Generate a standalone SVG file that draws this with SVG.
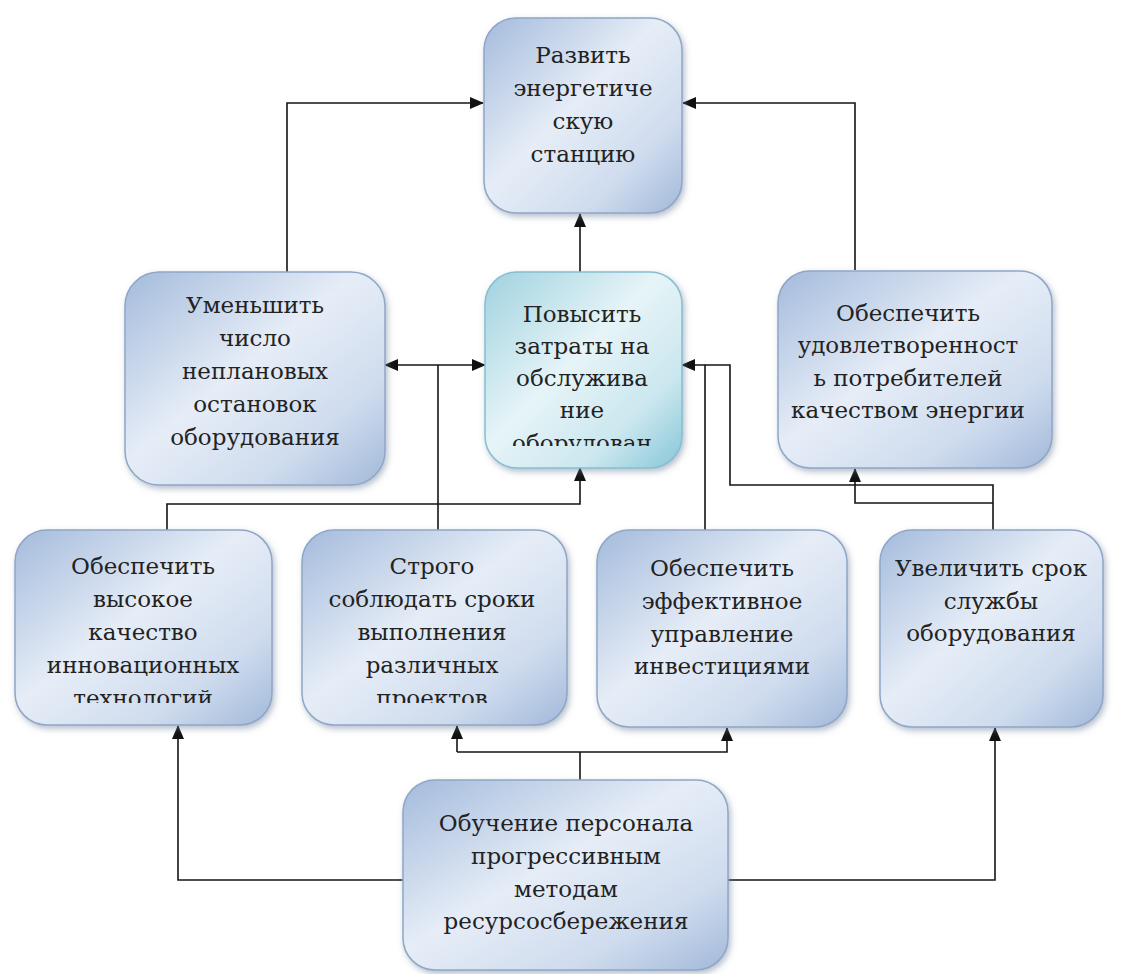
<svg xmlns="http://www.w3.org/2000/svg" width="1126" height="974" viewBox="0 0 1126 974">
<defs>
<linearGradient id="gBlue" x1="0" y1="0" x2="1" y2="1">
<stop offset="0" stop-color="#a4bbdc"/>
<stop offset="0.45" stop-color="#e6edf7"/>
<stop offset="0.75" stop-color="#cfdcee"/>
<stop offset="1" stop-color="#a2b9da"/>
</linearGradient>
<linearGradient id="gCyan" x1="0" y1="0" x2="1" y2="1">
<stop offset="0" stop-color="#9fd2e0"/>
<stop offset="0.45" stop-color="#e6f4f7"/>
<stop offset="0.75" stop-color="#cbe7ef"/>
<stop offset="1" stop-color="#86c6d8"/>
</linearGradient>
<filter id="sh" x="-10%" y="-10%" width="125%" height="125%">
<feDropShadow dx="2" dy="3" stdDeviation="3" flood-color="#6a7f99" flood-opacity="0.5"/>
</filter>
<marker id="arr" viewBox="0 0 14 12" refX="13" refY="6" markerWidth="14" markerHeight="12" markerUnits="userSpaceOnUse" orient="auto-start-reverse">
<path d="M0,0 L14,6 L0,12 Z" fill="#111"/>
</marker>
<clipPath id="clipC"><rect x="485" y="272" width="197" height="174"/></clipPath>
<clipPath id="clipA"><rect x="15" y="530" width="257" height="173"/></clipPath>
<clipPath id="clipB"><rect x="302" y="530" width="265" height="173"/></clipPath>
</defs>
<style>
.box{fill:url(#gBlue);stroke:#8fa6c6;stroke-width:1.5;filter:url(#sh)}
.cyan{fill:url(#gCyan);stroke:#86bfcf}
.t{font-family:"DejaVu Serif","Liberation Serif","Times New Roman",serif;font-size:23px;fill:#222;text-anchor:middle}
.c{fill:none;stroke:#151515;stroke-width:1.6}
</style>
<rect width="1126" height="974" fill="#ffffff"/>

<g id="connectors">
<polyline class="c" points="287,272 287,103 483,103" marker-end="url(#arr)"/>
<polyline class="c" points="855,270 855,103 683,103" marker-end="url(#arr)"/>
<polyline class="c" points="580,272 580,214" marker-end="url(#arr)"/>
<polyline class="c" points="385,365 485,365" marker-start="url(#arr)" marker-end="url(#arr)"/>
<polyline class="c" points="438,530 438,365"/>
<polyline class="c" points="167,530 167,504 580,504 580,468" marker-end="url(#arr)"/>
<polyline class="c" points="705,530 705,365 682,365" marker-end="url(#arr)"/>
<polyline class="c" points="705,365 730,365 730,485 993,485 993,530"/>
<polyline class="c" points="993,503 855,503 855,469" marker-end="url(#arr)"/>
<polyline class="c" points="580,780 580,752"/>
<polyline class="c" points="457,752 457,726" marker-end="url(#arr)"/>
<polyline class="c" points="457,752 727,752 727,728" marker-end="url(#arr)"/>
<polyline class="c" points="403,880 178,880 178,726" marker-end="url(#arr)"/>
<polyline class="c" points="728,880 995,880 995,728" marker-end="url(#arr)"/>
</g>

<g id="node-top">
<rect class="box" x="484" y="18" width="198" height="195" rx="32"/>
<text class="t" x="583" y="63">Развить</text>
<text class="t" x="583" y="96">энергетиче</text>
<text class="t" x="583" y="129">скую</text>
<text class="t" x="583" y="162">станцию</text>
</g>

<g id="node-reduce">
<rect class="box" x="125" y="272" width="260" height="213" rx="34"/>
<text class="t" x="255" y="313">Уменьшить</text>
<text class="t" x="255" y="346">число</text>
<text class="t" x="255" y="379">неплановых</text>
<text class="t" x="255" y="412">остановок</text>
<text class="t" x="255" y="445">оборудования</text>
</g>

<g id="node-costs">
<rect class="box cyan" x="485" y="272" width="197" height="196" rx="32"/>
<g clip-path="url(#clipC)">
<text class="t" x="582" y="322">Повысить</text>
<text class="t" x="582" y="354">затраты на</text>
<text class="t" x="582" y="386">обслужива</text>
<text class="t" x="582" y="418">ние</text>
<text class="t" x="582" y="451">оборудован</text>
</g>
</g>

<g id="node-satisfaction">
<rect class="box" x="778" y="271" width="274" height="197" rx="32"/>
<text class="t" x="908" y="321">Обеспечить</text>
<text class="t" x="908" y="353">удовлетворенност</text>
<text class="t" x="908" y="386">ь потребителей</text>
<text class="t" x="908" y="418">качеством энергии</text>
</g>

<g id="node-quality">
<rect class="box" x="15" y="530" width="257" height="195" rx="32"/>
<g clip-path="url(#clipA)">
<text class="t" x="143" y="574">Обеспечить</text>
<text class="t" x="143" y="607">высокое</text>
<text class="t" x="143" y="640">качество</text>
<text class="t" x="143" y="673">инновационных</text>
<text class="t" x="143" y="706">технологий</text>
</g>
</g>

<g id="node-deadlines">
<rect class="box" x="302" y="530" width="265" height="195" rx="32"/>
<g clip-path="url(#clipB)">
<text class="t" x="432" y="574">Строго</text>
<text class="t" x="432" y="607">соблюдать сроки</text>
<text class="t" x="432" y="640">выполнения</text>
<text class="t" x="432" y="673">различных</text>
<text class="t" x="432" y="706">проектов</text>
</g>
</g>

<g id="node-investments">
<rect class="box" x="597" y="530" width="250" height="197" rx="32"/>
<text class="t" x="722" y="576">Обеспечить</text>
<text class="t" x="722" y="609">эффективное</text>
<text class="t" x="722" y="642">управление</text>
<text class="t" x="722" y="674">инвестициями</text>
</g>

<g id="node-lifetime">
<rect class="box" x="880" y="530" width="223" height="197" rx="32"/>
<text class="t" x="991" y="576">Увеличить срок</text>
<text class="t" x="991" y="609">службы</text>
<text class="t" x="991" y="641">оборудования</text>
</g>

<g id="node-training">
<rect class="box" x="403" y="780" width="325" height="190" rx="32"/>
<text class="t" x="566" y="831">Обучение персонала</text>
<text class="t" x="566" y="864">прогрессивным</text>
<text class="t" x="566" y="897">методам</text>
<text class="t" x="566" y="929">ресурсосбережения</text>
</g>
</svg>
